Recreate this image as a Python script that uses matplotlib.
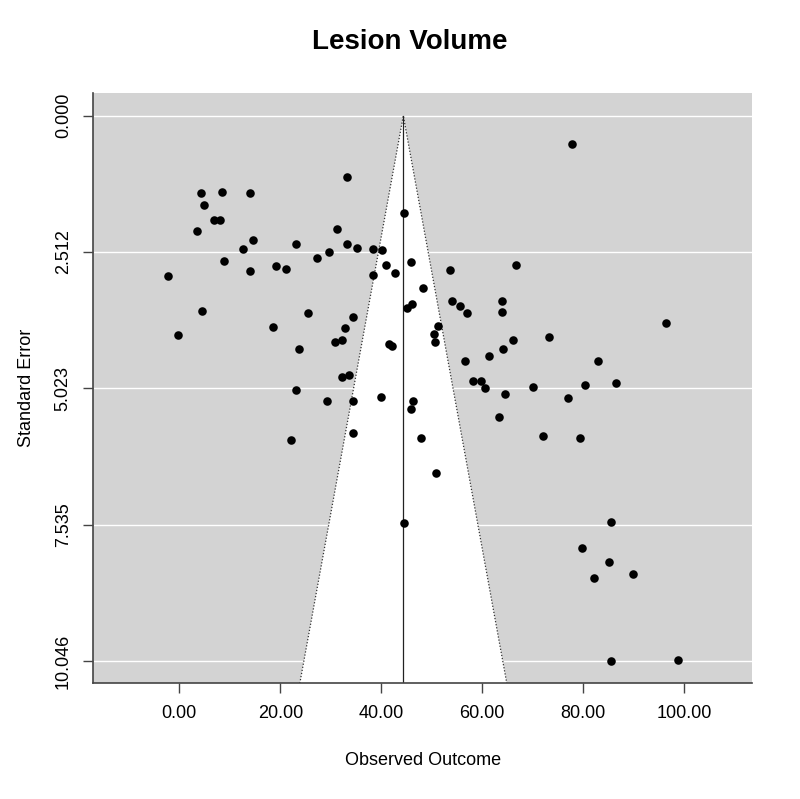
import numpy as np
import matplotlib
matplotlib.use("Agg")
import matplotlib.pyplot as plt

# observed outcomes and their standard errors
outcome = [33.15, 4.24, 8.46, 14.0, 4.89, 6.87, 8.0, 3.44, 31.23, 44.4,
           14.53, 12.67, 23.05, 33.15, 35.25, 38.3, 40.08, 29.58, 27.27, 8.85,
           40.93, 45.88, 19.15, 21.19, 14.0, -2.3, 38.3, 42.77, 48.2, 4.43,
           25.4, 34.46, 45.15, 46.08, -0.2, 18.5, 32.8, 30.77, 32.28, 23.76,
           41.6, 42.06, 32.28, 33.6, 23.05, 29.3, 34.46, 40.0, 46.28, 45.88,
           34.46, 22.12, 47.8, 44.5, 77.7, 53.66, 66.6, 54.06, 55.58, 57.0,
           64.0, 64.0, 51.23, 50.38, 50.57, 96.3, 73.27, 66.08, 64.1, 61.27,
           56.5, 82.9, 58.16, 59.7, 60.6, 70.0, 80.34, 86.4, 64.5, 77.03,
           63.3, 72.0, 79.35, 50.83, 85.42, 79.8, 85.1, 82.2, 89.9, 85.5,
           98.8]
std_err = [1.124, 1.43, 1.41, 1.43, 1.64, 1.93, 1.93, 2.13, 2.08, 1.80,
           2.29, 2.46, 2.37, 2.36, 2.44, 2.46, 2.48, 2.51, 2.63, 2.68,
           2.75, 2.70, 2.77, 2.82, 2.87, 2.96, 2.94, 2.90, 3.18, 3.60,
           3.64, 3.70, 3.55, 3.46, 4.04, 3.89, 3.91, 4.17, 4.13, 4.30,
           4.21, 4.24, 4.82, 4.78, 5.05, 5.25, 5.25, 5.18, 5.25, 5.40,
           5.84, 5.97, 5.93, 7.51, 0.53, 2.85, 2.75, 3.42, 3.51, 3.64,
           3.42, 3.62, 3.88, 4.03, 4.17, 3.81, 4.08, 4.14, 4.29, 4.43,
           4.51, 4.52, 4.89, 4.89, 5.01, 4.99, 4.96, 4.93, 5.13, 5.21,
           5.55, 5.91, 5.93, 6.58, 7.49, 7.97, 8.22, 8.52, 8.45, 10.046,
           10.03]

pooled = 44.36
x_ticks = [0, 20, 40, 60, 80, 100]
y_ticks = [0.000, 2.512, 5.023, 7.535, 10.046]

xlim = (-17.03, 113.47)
ylim = (10.457, -0.424)

plt.rcParams['font.family'] = ['Liberation Sans', 'DejaVu Sans']

fig = plt.figure(figsize=(8, 7.99), dpi=100)
ax = fig.add_axes([0.1166, 0.1448, 0.8238, 0.7392])

ax.set_facecolor('lightgray')
ax.set_xlim(*xlim)
ax.set_ylim(*ylim)

# white funnel region (pseudo 95% CI)
se_bot = ylim[0]
ax.fill([pooled - 1.96 * se_bot, pooled, pooled + 1.96 * se_bot],
        [se_bot, 0, se_bot], color='white', zorder=1, lw=0)

for yt in y_ticks:
    ax.axhline(yt, color='white', lw=1.0, zorder=1.5)

ax.plot([pooled - 1.96 * se_bot, pooled, pooled + 1.96 * se_bot],
        [se_bot, 0, se_bot], color='#333333', lw=0.9, ls=(0, (1, 1.5)), zorder=2)
ax.plot([pooled, pooled], [0, se_bot], color='#222222', lw=0.9, zorder=2)

ax.scatter(outcome, std_err, s=38, color='black', zorder=3, linewidths=0)

for side in ['top', 'right']:
    ax.spines[side].set_visible(False)
for side in ['left', 'bottom']:
    ax.spines[side].set_color('#444444')
    ax.spines[side].set_linewidth(1.2)

ax.set_xticks(x_ticks)
ax.set_xticklabels(['%.2f' % v for v in x_ticks])
ax.set_yticks(y_ticks)
ax.set_yticklabels(['%.3f' % v for v in y_ticks], rotation=90, va='center')
ax.tick_params(axis='both', length=7.5, width=1, color='#444444',
               labelsize=13, pad=8)

ax.set_xlabel('Observed Outcome', fontsize=13, labelpad=22)
ax.set_ylabel('Standard Error', fontsize=13, labelpad=14)

fig.text(0.5125, 0.947, 'Lesion Volume', fontsize=20, fontweight='bold',
         ha='center', va='center')

fig.savefig('out.png', dpi=100)
